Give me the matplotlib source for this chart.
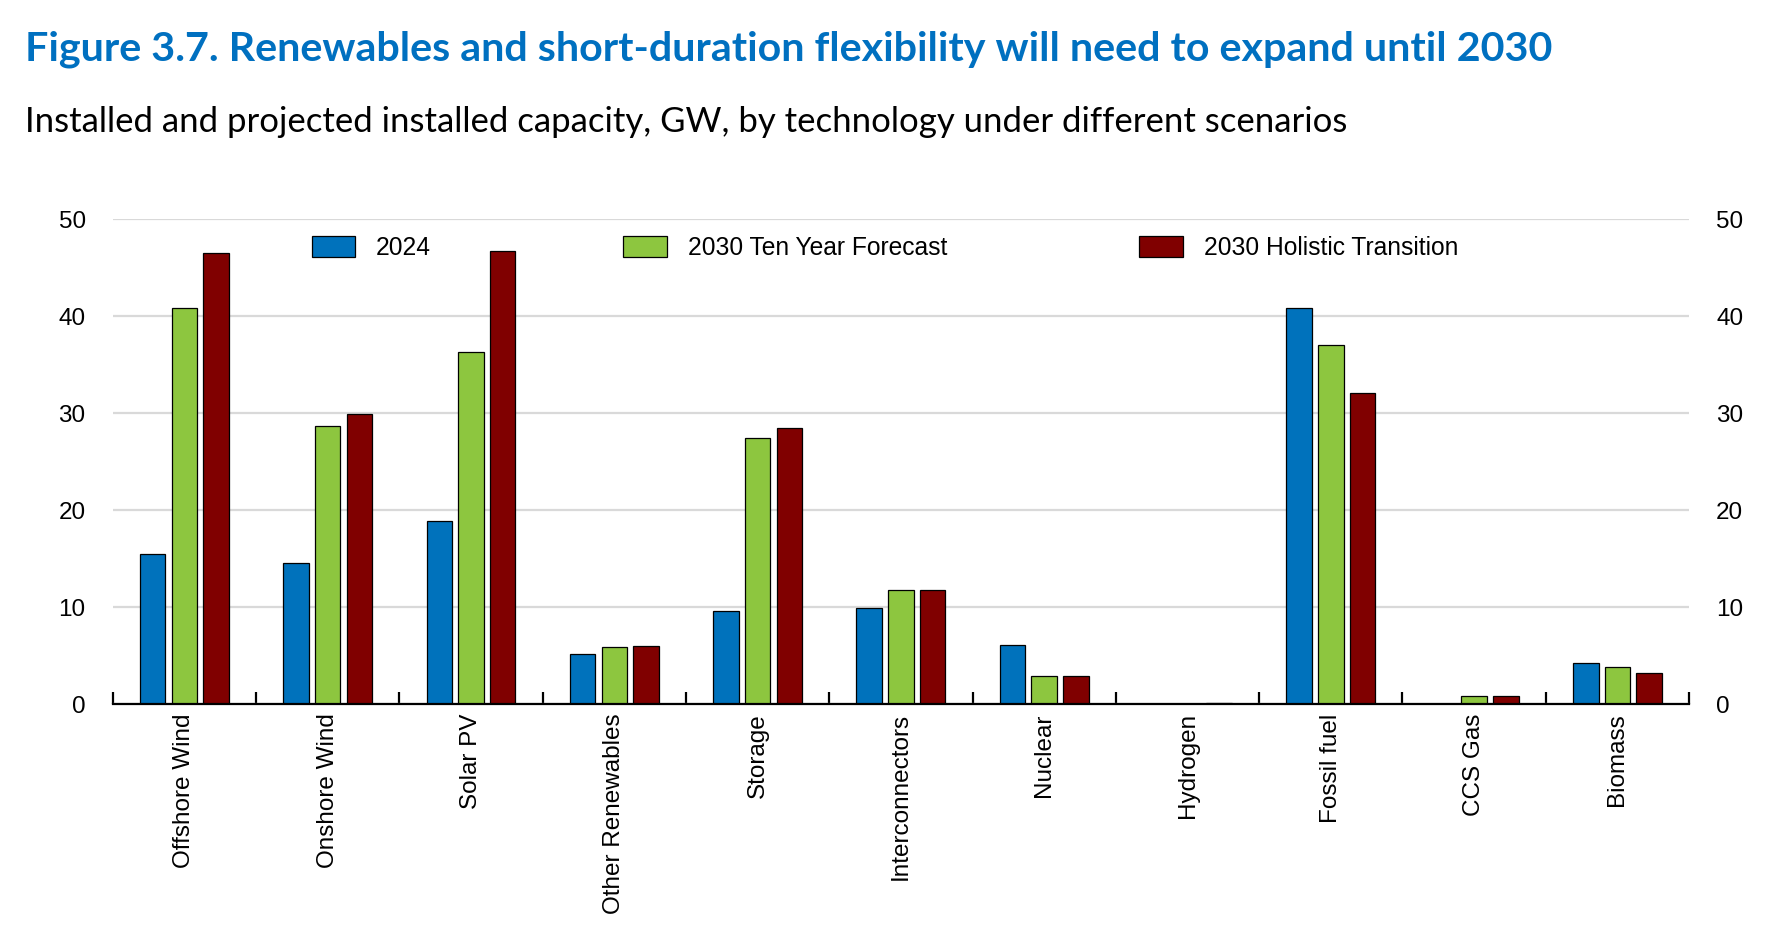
import matplotlib
matplotlib.use("Agg")
import matplotlib.pyplot as plt
import numpy as np

# data (GW)
categories = ['Offshore Wind', 'Onshore Wind', 'Solar PV', 'Other Renewables', 'Storage',
              'Interconnectors', 'Nuclear', 'Hydrogen', 'Fossil fuel', 'CCS Gas', 'Biomass']
series_names = ['2024', '2030 Ten Year Forecast', '2030 Holistic Transition']
vals_2024 = [15.5, 14.6, 18.9, 5.2, 9.6, 9.9, 6.1, 0.0, 40.9, 0.0, 4.3]
vals_tyf = [40.85, 28.7, 36.3, 5.9, 27.45, 11.8, 2.95, 0.0, 37.0, 0.9, 3.8]
vals_ht = [46.5, 29.9, 46.7, 6.0, 28.5, 11.8, 2.95, 0.15, 32.05, 0.9, 3.2]
colors = ['#0072BC', '#8DC63F', '#800000']
yticks = [0, 10, 20, 30, 40, 50]

plt.rcParams['font.family'] = ['Liberation Sans', 'DejaVu Sans']

fig = plt.figure(figsize=(17.87, 9.25), dpi=100)
ax = fig.add_axes([0.0631, 0.2386, 0.8821, 0.5243])

x = np.arange(len(categories))
width = 0.178
step = 0.221
for i, (vals, name) in enumerate(zip([vals_2024, vals_tyf, vals_ht], series_names)):
    ax.bar(x + (i - 1) * step, vals, width, color=colors[i], edgecolor='black',
           linewidth=0.9, label=name, zorder=3)

ax.set_xlim(-0.5, len(categories) - 0.5)
ax.set_ylim(0, 50)
ax.set_yticks(yticks)
ax.yaxis.grid(True, color='#d9d9d9', linewidth=1.6, zorder=0)
ax.set_axisbelow(True)

for s in ['left', 'right', 'top']:
    ax.spines[s].set_visible(False)
ax.spines['bottom'].set_linewidth(1.6)
ax.spines['bottom'].set_zorder(4)

ax.tick_params(axis='y', length=0, labelsize=17.5, pad=19.5, labelleft=True, labelright=True)
ax.set_xticks(x)
ax.set_xticklabels(categories, rotation=90, fontsize=17.5, va='top', ha='center')
ax.tick_params(axis='x', which='major', length=0, pad=6.5)
ax.set_xticks(np.arange(-0.5, len(categories)), minor=True)
ax.tick_params(axis='x', which='minor', direction='in', length=9, width=1.6)

ax.legend(loc='center left', bbox_to_anchor=(0.1262, 0.941), ncol=3, frameon=False,
          fontsize=17.75, handlelength=1.76, handleheight=0.9, handletextpad=0.85,
          columnspacing=7.8, borderpad=0, borderaxespad=0)

fig.text(0.014, 0.935, 'Figure 3.7. Renewables and short-duration flexibility will need to expand until 2030',
         fontsize=29.66, fontweight='bold', color='#0070C0', family='Lato', va='baseline')
fig.text(0.014, 0.857, 'Installed and projected installed capacity, GW, by technology under different scenarios',
         fontsize=25.0, color='black', family='Lato', va='baseline')

fig.savefig('out.png', dpi=100)
